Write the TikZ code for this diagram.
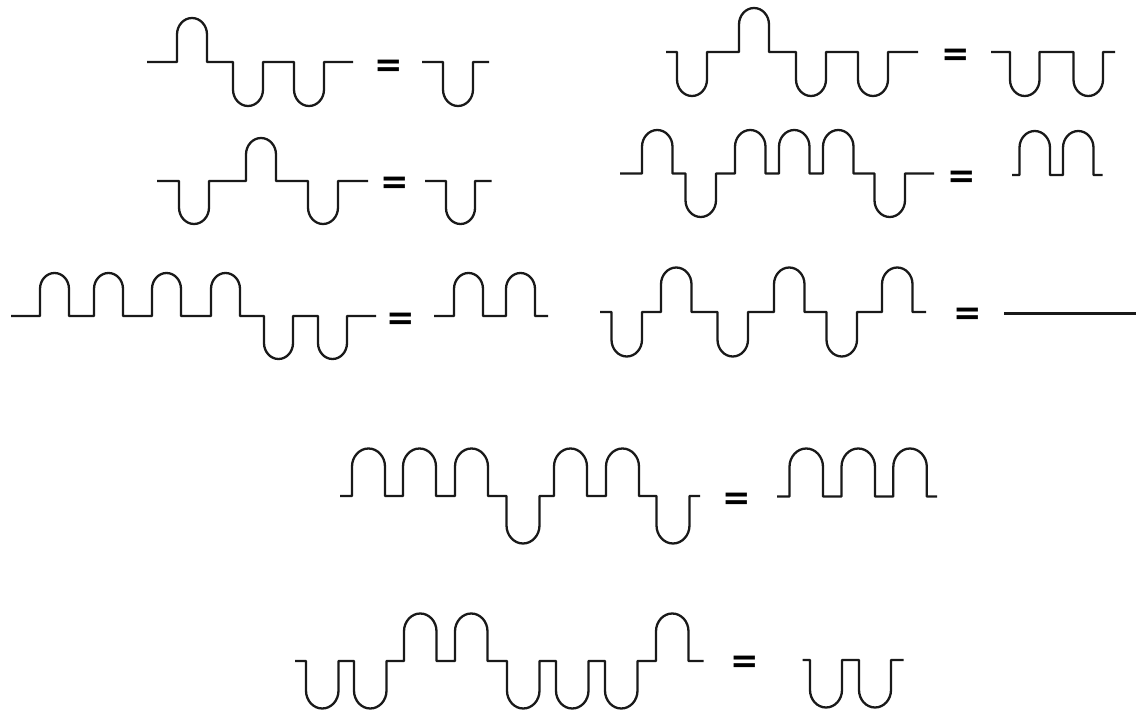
\documentclass[tikz,border=0pt]{standalone}
\usepackage{fontspec}
\newfontfamily\eqfont{DejaVu Sans}
\usepackage{tikz}
\tikzset{
  wline/.style={line width=2.3pt, black!90, line join=round},
  eqsign/.style={font=\eqfont\bfseries\fontsize{34}{34}\selectfont, inner sep=0pt},
}
% baseline, start, end, width, height, {left/sign,...} (1 = hump, -1 = dip)
\newcommand{\wave}[6]{%
  \draw[wline] (#2,-#1) foreach \p/\s in {#6} {
    -- (\p,-#1) -- ++(0,{(\s)*(#5-0.55*#4)})
    arc[start angle=180, end angle={180-180*(\s)}, x radius={#4/2}, y radius={0.55*#4}]
    -- ++(0,{-(\s)*(#5-0.55*#4)})
  } -- (#3,-#1);}

\begin{document}
\begin{tikzpicture}[x=1pt, y=1pt]
\useasboundingbox (0,0) rectangle (1136,-711);
% row 1
\wave{62}{147}{353}{30}{44}{177/1, 233/-1, 294/-1}
\node[eqsign] (eqA) at (389,-68) {=};
\wave{62}{422}{489}{30}{44}{443/-1}
\wave{52}{666}{918}{30}{44}{677/-1, 739/1, 796/-1, 858/-1}
\node[eqsign] (eqB) at (956,-57.5) {=};
\wave{52}{991}{1115}{29.5}{44}{1010/-1, 1073.5/-1}
% row 2
\wave{181}{157}{368}{30}{43}{179/-1, 246/1, 308/-1}
\node[eqsign] (eqC) at (394.5,-185) {=};
\wave{181}{425}{491.5}{29}{43}{446/-1}
\wave{173.5}{620}{934}{30.5}{43.5}{642/1, 685.5/-1, 735/1, 779/1, 823/1, 874.5/-1}
\node[eqsign] (eqD) at (962,-179.5) {=};
\wave{175}{1012}{1102.5}{30.5}{44}{1019.5/1, 1063/1}
% row 3
\wave{316}{11}{376}{29}{43}{40/1, 94/1, 152/1, 211/1, 264/-1, 318/-1}
\node[eqsign] (eqE) at (400.5,-321) {=};
\wave{316}{434}{548}{29}{43}{454/1, 506/1}
\wave{312}{600}{926}{30.5}{44.5}{611.5/-1, 661/1, 717.5/-1, 774/1, 826.5/-1, 882/1}
\node[eqsign] (eqF) at (968,-316) {=};
\draw[wline] (1004,-313.5) -- (1136,-313.5);
% row 4
\wave{496}{340}{700}{33}{47.5}{352/1, 403/1, 455/1, 506.5/-1, 554/1, 606/1, 656.5/-1}
\node[eqsign] (eqG) at (737,-501) {=};
\wave{496.5}{777}{937}{33.5}{48}{789.5/1, 841.5/1, 893.3/1}
% row 5
\wave{661}{295}{703.5}{32.5}{47.5}{306/-1, 354/-1, 404/1, 455/1, 507/-1, 556/-1, 605/-1, 656/1}
\node[eqsign] (eqH) at (745,-664) {=};
\wave{660}{802.5}{903.5}{32}{47.5}{810/-1, 859/-1}
\end{tikzpicture}
\end{document}
